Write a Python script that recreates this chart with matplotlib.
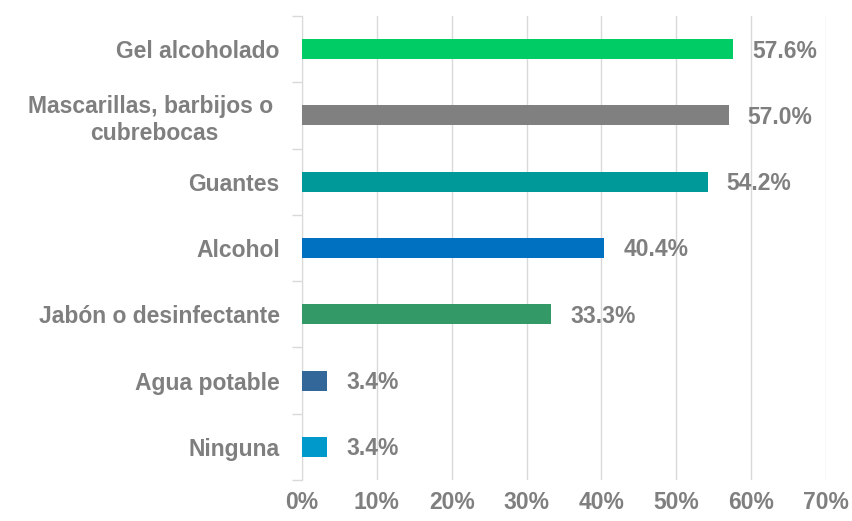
import numpy as np
import matplotlib.pyplot as plt
from matplotlib.ticker import FixedLocator

categories = ["Gel alcoholado", "Mascarillas, barbijos o \ncubrebocas", "Guantes",
              "Alcohol", "Jabón o desinfectante", "Agua potable", "Ninguna"]
values = [57.6, 57.0, 54.2, 40.4, 33.3, 3.4, 3.4]
colors = ["#00cc66", "#808080", "#009999", "#0070c0", "#339966", "#336699", "#0099cc"]
xticks = [0, 10, 20, 30, 40, 50, 60, 70]

TXT = "#7f7f7f"
FS = 16.5
plt.rcParams["font.family"] = ["Liberation Sans", "DejaVu Sans"]

fig = plt.figure(figsize=(8.52, 5.21), dpi=100)
ax = fig.add_axes([0.3545, 0.0787, 0.9695 - 0.3545, 0.9693 - 0.0787])

y = np.arange(len(categories))
ax.barh(y, values, height=0.3, color=colors, zorder=3)
for yi, v in zip(y, values):
    ax.text(v + 2.5, yi + 0.03, f"{v:.1f}%", va="center", ha="left",
            fontsize=FS, fontweight="bold", color=TXT)

ax.set_xlim(0, 70)
ax.set_ylim(len(categories) - 0.5, -0.5)
ax.set_xticks(xticks)
ax.set_xticklabels([f"{t}%" for t in xticks], fontsize=FS, fontweight="bold", color=TXT)
ax.set_yticks(y)
ax.set_yticklabels(categories, fontsize=FS, fontweight="bold", color=TXT,
                   multialignment="center")
ax.yaxis.set_minor_locator(FixedLocator(np.arange(-0.5, len(categories), 1.0)))
ax.tick_params(axis="y", which="major", length=0, pad=16)
ax.tick_params(axis="y", which="minor", length=7, color="#d9d9d9", width=1)
ax.tick_params(axis="x", length=0, pad=8)

ax.grid(axis="x", color="#d9d9d9", linewidth=1, zorder=0)
for s in ["top", "right", "bottom"]:
    ax.spines[s].set_visible(False)
ax.spines["left"].set_color("#d9d9d9")

fig.savefig("out.png", dpi=100)
